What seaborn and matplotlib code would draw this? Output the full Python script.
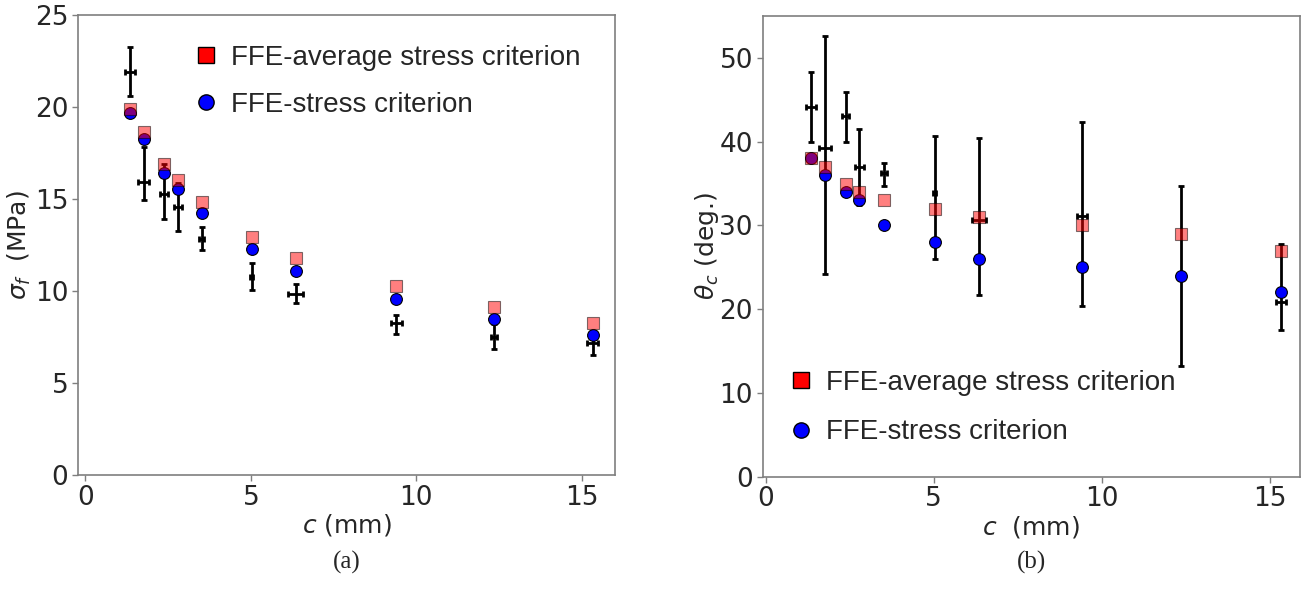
import numpy as np
import matplotlib
matplotlib.use("Agg")
import matplotlib.pyplot as plt
import seaborn as sns
from matplotlib.lines import Line2D

# ---------------- data ----------------
c_mm = [1.35, 1.76, 2.38, 2.79, 3.52, 5.03, 6.35, 9.40, 12.35, 15.33]

# panel (a): failure stress (MPa)
sigma_avg = [19.87, 18.62, 16.89, 16.03, 14.85, 12.95, 11.78, 10.27, 9.15, 8.28]
sigma_stress = [19.69, 18.26, 16.40, 15.53, 14.22, 12.28, 11.10, 9.58, 8.46, 7.61]
sigma_exp = [21.92, 15.94, 15.27, 14.58, 12.84, 10.74, 9.82, 8.24, 7.52, 7.16]
sigma_exp_lo = [20.60, 14.95, 13.91, 13.28, 12.23, 10.05, 9.33, 7.65, 6.85, 6.52]
sigma_exp_hi = [23.24, 17.84, 16.90, 15.88, 13.46, 11.50, 10.38, 8.70, 8.19, 7.80]
c_err_a = [0.15, 0.17, 0.12, 0.12, 0.08, 0.05, 0.22, 0.16, 0.10, 0.17]

# panel (b): crack angle (deg.)
theta_avg = [38, 37, 35, 34, 33, 32, 31, 30, 29, 27]
theta_stress = [38, 36, 34, 33, 30, 28, 26, 25, 24, 22]
theta_exp = [44.17, 39.19, 43.09, 36.96, 36.24, 33.86, 30.67, 31.15, 24.00, 20.84]
theta_exp_lo = [40.00, 24.22, 39.95, 32.40, 34.65, 25.97, 21.71, 20.39, 13.23, 17.53]
theta_exp_hi = [48.27, 52.57, 45.93, 41.54, 37.44, 40.70, 40.43, 42.40, 34.73, 27.77]
c_err_b = [0.16, 0.17, 0.10, 0.12, 0.08, 0.05, 0.21, 0.15, 0.10, 0.15]

label_avg = "FFE-average stress criterion"
label_stress = "FFE-stress criterion"

# ---------------- style ----------------
sns.set_style("white")
plt.rcParams['font.family'] = ['DejaVu Sans']
plt.rcParams['mathtext.fontset'] = 'dejavusans'

fig = plt.figure(figsize=(13.04, 5.92), dpi=100)
W, H = 1304, 592

def axes_px(l, r, t, b):
    return fig.add_axes([l / W, 1 - b / H, (r - l) / W, (b - t) / H])

axA = axes_px(78, 615, 15, 475)
axB = axes_px(762.7, 1300, 16, 476.7)

SPINE = "#7f7f7f"


def draw_panel(ax, y_avg, y_stress, y_exp, lo, hi, xerr):
    yerr = np.array([np.array(y_exp) - np.array(lo), np.array(hi) - np.array(y_exp)])
    ax.errorbar(c_mm, y_exp, yerr=yerr, xerr=xerr, fmt='none', ecolor='black',
                elinewidth=2.0, capsize=2.5, capthick=2.0, zorder=2)
    sns.scatterplot(x=c_mm, y=y_stress, ax=ax, marker='o', s=72, color='#0000ff',
                    edgecolor='black', linewidth=0.8, zorder=3, legend=False)
    sns.scatterplot(x=c_mm, y=y_avg, ax=ax, marker='s', s=72, color='#ff0000',
                    edgecolor='black', linewidth=0.8, alpha=0.5, zorder=4, legend=False)
    for sp in ax.spines.values():
        sp.set_color(SPINE)
        sp.set_linewidth(1.2)
    ax.tick_params(axis='both', which='major', labelsize=19, length=4, width=1,
                   color=SPINE, direction='out', bottom=True, left=True,
                   top=False, right=False, pad=3)


draw_panel(axA, sigma_avg, sigma_stress, sigma_exp, sigma_exp_lo, sigma_exp_hi, c_err_a)
axA.set_xlim(-0.22, 16.0)
axA.set_ylim(0, 25)
axA.set_xticks([0, 5, 10, 15])
axA.set_yticks([0, 5, 10, 15, 20, 25])
axA.set_xlabel(r"$c$ (mm)", fontsize=18, labelpad=1)
axA.set_ylabel(r"$\sigma_f$  (MPa)", fontsize=18)
axA.yaxis.set_label_coords(-0.084, 0.5)

draw_panel(axB, theta_avg, theta_stress, theta_exp, theta_exp_lo, theta_exp_hi, c_err_b)
axB.set_xlim(-0.09, 15.9)
axB.set_ylim(0, 55)
axB.set_xticks([0, 5, 10, 15])
axB.set_yticks([0, 10, 20, 30, 40, 50])
axB.set_xlabel(r"$c$  (mm)", fontsize=18, labelpad=1)
axB.set_ylabel(r"$\theta_c$ (deg.)", fontsize=18)
axB.yaxis.set_label_coords(-0.078, 0.5)

handles = [
    Line2D([], [], marker='s', ls='', color='#ff0000', mec='black', mew=1.0, ms=11),
    Line2D([], [], marker='o', ls='', color='#0000ff', mec='black', mew=1.0, ms=11),
]
leg_font = {'family': 'Liberation Sans', 'size': 20}
axA.legend(handles, [label_avg, label_stress], loc='upper left',
           bbox_to_anchor=(0.212, 0.935), frameon=False, prop=leg_font,
           borderaxespad=0, borderpad=0, handlelength=1.0, handletextpad=0.4,
           labelspacing=0.75)
axB.legend(handles, [label_avg, label_stress], loc='upper left',
           bbox_to_anchor=(0.045, 0.232), frameon=False, prop=leg_font,
           borderaxespad=0, borderpad=0, handlelength=1.0, handletextpad=0.4,
           labelspacing=0.85)

fig.text(346.5 / W, 1 - 562 / H, "(a)", family='Liberation Serif', fontsize=18,
         ha='center', va='center')
fig.text(1031 / W, 1 - 562 / H, "(b)", family='Liberation Serif', fontsize=18,
         ha='center', va='center')

fig.savefig("out.png", dpi=100)
